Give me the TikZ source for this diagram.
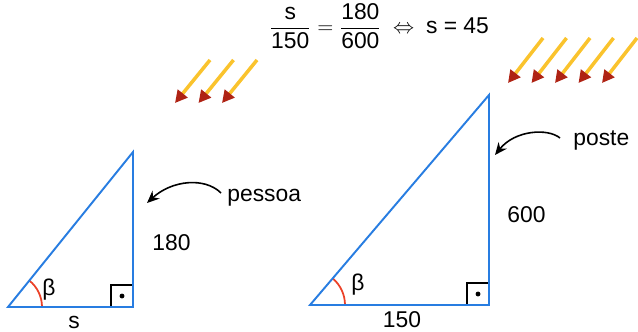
\documentclass[tikz,border=0pt]{standalone}
\usepackage{amsmath}
\usepackage{fontspec}
\setmainfont{Liberation Sans}
\usetikzlibrary{arrows.meta}
\definecolor{ladoazul}{RGB}{40,125,225}
\definecolor{raioamarelo}{RGB}{250,195,45}
\definecolor{pontavermelha}{RGB}{175,35,20}
\definecolor{arcovermelho}{RGB}{235,65,40}

\begin{document}
\begin{tikzpicture}[x=0.02cm,y=-0.02cm,
  lado/.style={draw=ladoazul,line width=1.1pt,line join=miter},
  reto/.style={draw=black,line width=1.1pt},
  arco/.style={draw=arcovermelho,line width=1pt},
  raio/.style={raioamarelo,line width=2pt,-{Triangle[length=7pt,width=7pt,color=pontavermelha]}},
  seta/.style={line width=0.9pt,-{Stealth[length=7pt,width=6pt]}},
  rotulo/.style={font=\fontsize{13}{15}\selectfont,inner sep=0pt}]
\useasboundingbox (0,0) rectangle (638,331);
% formula
\node[rotulo] (formula) at (379,26) {$\dfrac{\text{s}}{\text{150}} = \dfrac{\text{180}}{\text{600}} \;\Leftrightarrow\; \text{s = 45}$};
% raios de sol
\foreach \i in {0,1,2} \draw[raio] (210+23.5*\i,60) -- ++(-35,43);
\foreach \i in {0,...,4} \draw[raio] (543+23.5*\i,38) -- ++(-35,45);
% pessoa
\coordinate (A1) at (8,307);
\coordinate (B1) at (133,307);
\coordinate (C1) at (133,152);
\draw[arco] (A1) ++(34,0) arc (0:-51:34);
\draw[reto] (B1) rectangle ++(-22,-22);
\fill (B1) ++(-11,-11) circle (1.4pt);
\draw[lado] (A1) -- (B1) -- (C1) -- cycle;
\node[rotulo] (beta1) at (49,290) {β};
\node[rotulo,anchor=base] (base1) at (74,328) {s};
\node[rotulo,anchor=base west] (altura1) at (152,250) {180};
\node[rotulo,anchor=base west] (pessoa) at (227,201) {pessoa};
\coordinate (iniciopessoa) at (221,193);
\coordinate (fimpessoa) at (147,203);
\draw[seta] (iniciopessoa) .. controls (205,177) and (172,180) .. (fimpessoa);
% poste
\coordinate (A2) at (310,305);
\coordinate (B2) at (489,305);
\coordinate (C2) at (489,95);
\draw[arco] (A2) ++(35,0) arc (0:-49.6:35);
\draw[reto] (B2) rectangle ++(-22,-22);
\fill (B2) ++(-11,-11) circle (1.4pt);
\draw[lado] (A2) -- (B2) -- (C2) -- cycle;
\node[rotulo] (beta2) at (358,285) {β};
\node[rotulo,anchor=base] (base2) at (402,327) {150};
\node[rotulo,anchor=base west] (altura2) at (507,222) {600};
\node[rotulo,anchor=base west] (poste) at (573,145) {poste};
\coordinate (inicioposte) at (560,138);
\coordinate (fimposte) at (495,155);
\draw[seta] (inicioposte) .. controls (548,128) and (515,130) .. (fimposte);
\end{tikzpicture}
\end{document}
